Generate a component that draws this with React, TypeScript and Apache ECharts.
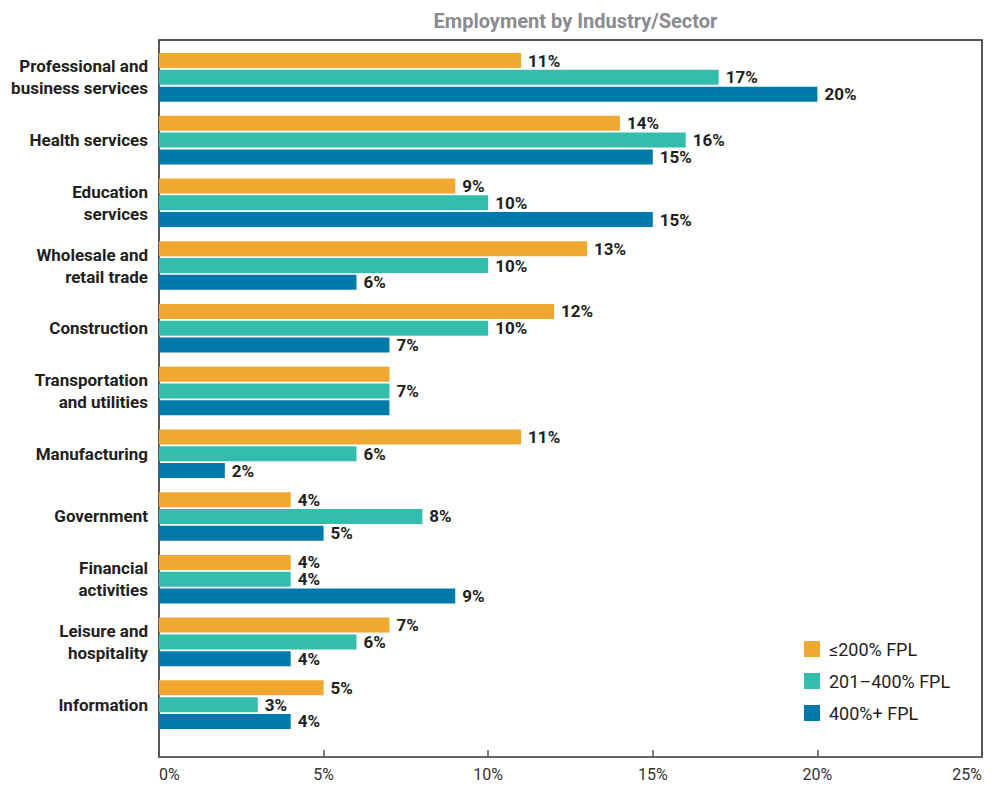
import React, { useEffect, useRef } from "react";
import * as echarts from "echarts";

const categories = [
  "Professional and\nbusiness services",
  "Health services",
  "Education\nservices",
  "Wholesale and\nretail trade",
  "Construction",
  "Transportation\nand utilities",
  "Manufacturing",
  "Government",
  "Financial\nactivities",
  "Leisure and\nhospitality",
  "Information",
];
const seriesNames = ["≤200% FPL", "201–400% FPL", "400%+ FPL"];
const low = [11, 14, 9, 13, 12, 7, 11, 4, 4, 7, 5];
const mid = [17, 16, 10, 10, 10, 7, 6, 8, 4, 6, 3];
const high = [20, 15, 15, 6, 7, 7, 2, 5, 9, 4, 4];
const xTicks = [0, 5, 10, 15, 20, 25];
// labels hidden where bars share one label (Transportation and utilities)
const hiddenLabels: Record<number, number[]> = { 0: [5], 2: [5] };

const colors = ["#F0A830", "#33BDAD", "#007AAB"];
const FONT = "Roboto, 'Liberation Sans', sans-serif";
const DARK = "#231f20";

export default function App() {
  const ref = useRef<HTMLDivElement>(null);
  useEffect(() => {
    document.body.style.margin = "0";
    if (!ref.current) return;
    const chart = echarts.init(ref.current, undefined, { renderer: "svg" });
    const values = [low, mid, high];
    const gridLeft = 159;
    const gridRight = 18;
    const gridTop = 46;
    const gridHeight = 690;
    const boxTop = 40;
    const boxBottom = 757;
    chart.setOption({
      animation: false,
      textStyle: { fontFamily: FONT },
      title: {
        text: "Employment by Industry/Sector",
        left: (gridLeft + (1000 - gridRight)) / 2,
        textAlign: "center",
        top: 6,
        textStyle: { fontFamily: FONT, fontSize: 20, fontWeight: "bold", color: "#8a8c8e" },
      },
      legend: {
        orient: "vertical",
        left: 799,
        top: 635,
        itemWidth: 16,
        itemHeight: 16,
        itemGap: 14,
        icon: "rect",
        data: seriesNames,
        textStyle: { fontFamily: FONT, fontSize: 18, color: DARK, padding: [0, 0, 0, 4] },
      },
      grid: {
        left: gridLeft,
        right: gridRight,
        top: gridTop,
        height: gridHeight,
        containLabel: false,
        outerBoundsMode: "none",
      },
      xAxis: {
        type: "value",
        min: xTicks[0],
        max: xTicks[xTicks.length - 1],
        interval: 5,
        offset: boxBottom - (gridTop + gridHeight),
        axisLine: { show: true, lineStyle: { color: "#666", width: 2 } },
        axisTick: { show: true, inside: true, length: 7, lineStyle: { color: "#555", width: 1.5 } },
        splitLine: { show: false },
        axisLabel: {
          formatter: "{value}%",
          fontFamily: FONT,
          fontSize: 16,
          color: "#333",
          margin: 9,
          alignMinLabel: "left",
          alignMaxLabel: "right",
        },
      },
      yAxis: {
        type: "category",
        inverse: true,
        data: categories,
        axisLine: { show: false },
        axisTick: { show: false },
        axisLabel: {
          fontFamily: FONT,
          fontSize: 17,
          fontWeight: "bold",
          color: DARK,
          margin: 11,
          lineHeight: 22,
          align: "right",
        },
      },
      graphic: [
        {
          type: "rect",
          shape: { x: gridLeft, y: boxTop, width: 1000 - gridRight - gridLeft, height: boxBottom - boxTop },
          style: { fill: "none", stroke: DARK, lineWidth: 1.5 },
          z: 0,
          silent: true,
        },
      ],
      series: seriesNames.map((name, si) => ({
        name,
        type: "bar",
        barWidth: 15,
        barGap: "12%",
        itemStyle: { color: colors[si] },
        label: {
          show: true,
          position: "right",
          distance: 7,
          formatter: "{c}%",
          fontFamily: FONT,
          fontSize: 17,
          lineHeight: 15,
          fontWeight: "bold",
          color: DARK,
        },
        data: values[si].map((v, i) =>
          (hiddenLabels[si] || []).includes(i) ? { value: v, label: { show: false } } : v
        ),
        z: 3,
      })),
    });
    return () => chart.dispose();
  }, []);
  return <div ref={ref} style={{ width: 1000, height: 786 }} />;
}
